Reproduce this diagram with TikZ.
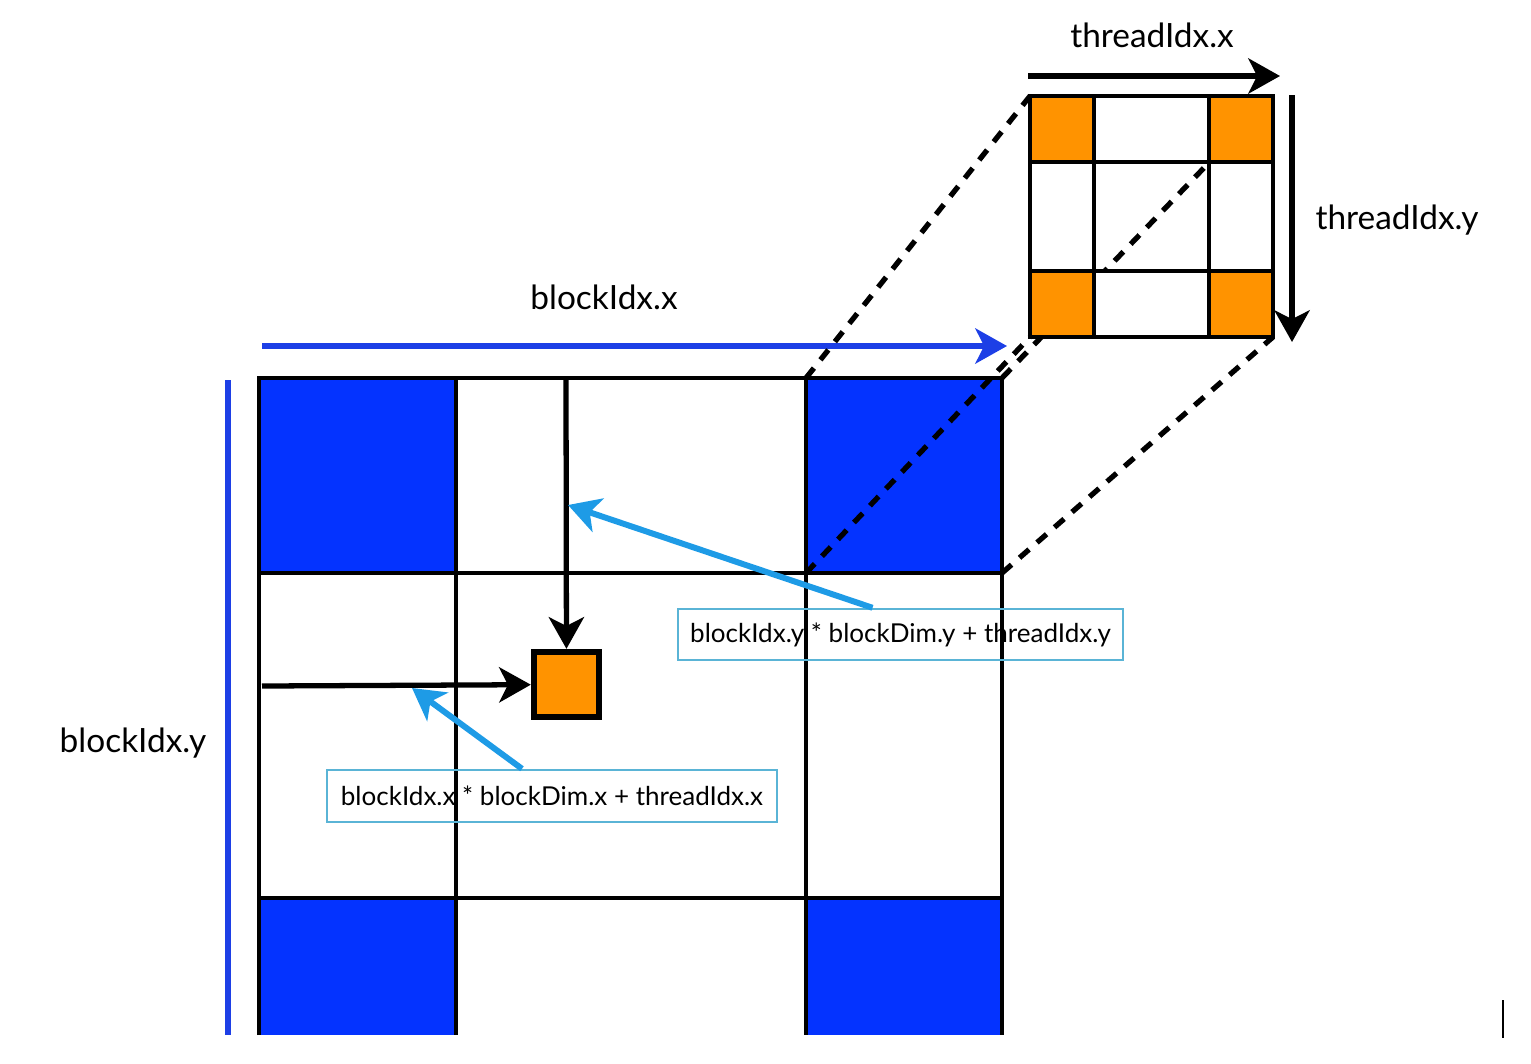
\documentclass[tikz,border=0pt]{standalone}
\usepackage{fontspec}
\setmainfont{Lato}
\usepackage{xcolor}
\usepackage{tikz}
\usetikzlibrary{arrows.meta}
\definecolor{blockblue}{HTML}{0433FF}
\definecolor{axisblue}{HTML}{1D3FE6}
\definecolor{threadorange}{HTML}{FF9300}
\definecolor{pointblue}{HTML}{1E9BE6}
\definecolor{boxblue}{HTML}{5AB4D6}
\tikzset{
	gridline/.style={line width=1.4pt},
	zoomline/.style={line width=1.5pt,dash pattern=on 3.6pt off 3pt},
	axisarrow/.style={line width=1.5pt,-{Stealth[length=9pt,width=10pt,inset=2.5pt]}},
	pointer/.style={pointblue,line width=1.7pt,-{Stealth[length=9pt,width=10pt,inset=2.5pt]}},
	formula/.style={draw=boxblue,line width=0.7pt,minimum width=4.45cm,minimum height=0.51cm,inner sep=0pt,font=\fontsize{7.4}{9}\selectfont},
	label/.style={font=\fontsize{9.5}{11}\selectfont}
}

\begin{document}
\begin{tikzpicture}[x=0.01cm,y=-0.01cm]
	\useasboundingbox (0,0) rectangle (1531,1063);
	%
	%  BLOCKS
	%
	\fill[blockblue] (259,378) rectangle (456,573);
	\fill[blockblue] (806,378) rectangle (1002,573);
	\fill[blockblue] (259,898) rectangle (456,1035);
	\fill[blockblue] (806,898) rectangle (1002,1035);
	\draw[gridline] (259,1035) -- (259,378) -- (1002,378) -- (1002,1035);
	\draw[gridline] (456,378) -- (456,1035);
	\draw[gridline] (806,378) -- (806,1035);
	\draw[gridline] (259,573) -- (1002,573);
	\draw[gridline] (259,898) -- (1002,898);
	%
	\coordinate (b1) at (806,378);
	\coordinate (b2) at (1002,378);
	\coordinate (b3) at (806,573);
	\coordinate (b4) at (1002,573);
	%
	%  AXES
	%
	\coordinate (bxs) at (262,346);
	\coordinate (bxe) at (1007,346);
	\coordinate (bys) at (228,380);
	\coordinate (bye) at (228,1035);
	\coordinate (txs) at (1028,76);
	\coordinate (txe) at (1280,76);
	\coordinate (tys) at (1292,95);
	\coordinate (tye) at (1292,342);
	\draw[axisarrow,axisblue] (bxs) -- (bxe);
	\draw[axisblue,line width=1.5pt] (bys) -- (bye);
	\draw[axisarrow] (txs) -- (txe);
	\draw[axisarrow] (tys) -- (tye);
	\node[label] (bx) at (604,297) {blockIdx.x};
	\node[label] (by) at (133,743) {blockIdx.y};
	\node[label] (tx) at (1152,35) {threadIdx.x};
	\node[label] (ty) at (1397,220) {threadIdx.y};
	%
	%  ZOOM
	%
	\coordinate (s1) at (1030,96);
	\coordinate (s2) at (1273,96);
	\coordinate (s3) at (1030,337);
	\coordinate (s4) at (1273,337);
	\draw[zoomline] (b1) -- (s1);
	\draw[zoomline] (b2) -- (s2);
	\draw[zoomline] (b3) -- (s3);
	\draw[zoomline] (b4) -- (s4);
	%
	%  THREADS
	%
	\fill[threadorange] (1030,96) rectangle (1094,162);
	\fill[threadorange] (1209,96) rectangle (1273,162);
	\fill[threadorange] (1030,271) rectangle (1094,337);
	\fill[threadorange] (1209,271) rectangle (1273,337);
	\fill[white] (1094,271) rectangle (1209,337);
	\draw[gridline] (s1) rectangle (s4);
	\draw[gridline] (1094,96) -- (1094,337);
	\draw[gridline] (1209,96) -- (1209,337);
	\draw[gridline] (1030,162) -- (1273,162);
	\draw[gridline] (1030,271) -- (1273,271);
	%
	%  THREAD IN GRID
	%
	\node[draw,fill=threadorange,line width=1.8pt,minimum size=0.65cm,inner sep=0pt] (t) at (566.5,684.5) {};
	\coordinate (cols) at (566,378);
	\coordinate (rows) at (262,686);
	\path[axisarrow]
	(cols) edge (t)
	(rows) edge (t);
	%
	%  FORMULAS
	%
	\node[formula] (fy) at (900.5,634.5) {blockIdx.y * blockDim.y + threadIdx.y};
	\node[formula,minimum width=4.5cm,minimum height=0.52cm] (fx) at (552,796) {blockIdx.x * blockDim.x + threadIdx.x};
	\coordinate (py) at (568,505);
	\coordinate (px) at (412,688);
	\path[pointer]
	([xshift=-0.28cm]fy.north) edge (py)
	([xshift=-0.3cm]fx.north) edge (px);
	%
	\coordinate (c1) at (1503,1000);
	\coordinate (c2) at (1503,1038);
	\draw[line width=0.7pt] (c1) -- (c2);
\end{tikzpicture}
\end{document}
